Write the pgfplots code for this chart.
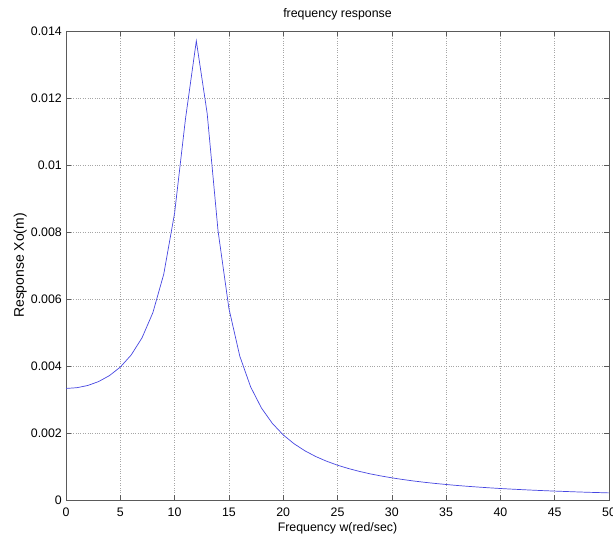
\documentclass[border=0pt]{standalone}
\usepackage{fontspec}
\setmainfont{Liberation Sans}
\usepackage{pgfplots}
\pgfplotsset{compat=1.18}
\definecolor{curve}{RGB}{70,70,225}
\definecolor{axgray}{RGB}{90,90,90}
\begin{document}
\fontsize{12.4}{14}\selectfont
\begin{tikzpicture}
\useasboundingbox (-66bp,-39bp) rectangle (547bp,500bp);
\begin{axis}[
  at={(0,0)}, anchor=south west,
  scale only axis, width=543bp, height=469bp,
  xmin=0, xmax=50, ymin=0, ymax=0.014,
  xtick={0,5,...,50},
  ytick={0,0.002,0.004,0.006,0.008,0.01,0.012,0.014},
  scaled y ticks=false,
  /pgf/number format/assume math mode=true,
  yticklabel style={/pgf/number format/fixed, /pgf/number format/precision=3, anchor=east, inner sep=0pt, xshift=-4bp},
  xticklabel style={anchor=base, inner sep=0pt, yshift=-17bp},
  tick label style={font=\fontsize{12.4}{14}\selectfont},
  tick align=inside, major tick length=5bp,
  xtick pos=both, ytick pos=both,
  axis line style={axgray, line width=0.6bp},
  tick style={axgray, line width=0.6bp},
  grid=major,
  major grid style={gray!70, dotted, line width=0.6bp},
  title={frequency response},
  title style={at={(0.5,1)}, anchor=base, yshift=8bp, inner sep=0pt, font=\fontsize{12.4}{14}\selectfont},
  xlabel={Frequency w(red/sec)},
  xlabel style={at={(0.5,0)}, anchor=base, yshift=-32bp, inner sep=0pt, font=\fontsize{12.4}{14}\selectfont},
  ylabel={Response Xo(m)},
  ylabel style={at={(axis description cs:-0.0775,0.5)}, anchor=base, rotate=0, inner sep=0pt, font=\fontsize{14}{16}\selectfont},
]
\addplot[curve, line width=0.7bp, mark=none] coordinates {
(0,0.003330) (1,0.003352) (2,0.003418) (3,0.003535) (4,0.003713)
(5,0.003967) (6,0.004328) (7,0.004841) (8,0.005593) (9,0.006740)
(10,0.008565) (11,0.011372) (12,0.013704) (13,0.011537) (14,0.008033)
(15,0.005719) (16,0.004297) (17,0.003377) (18,0.002744) (19,0.002287)
(20,0.001944) (21,0.001679) (22,0.001468) (23,0.001297) (24,0.001157)
(25,0.001039) (26,0.000940) (27,0.000855) (28,0.000781) (29,0.000718)
(30,0.000662) (31,0.000612) (32,0.000568) (33,0.000529) (34,0.000494)
(35,0.000463) (36,0.000434) (37,0.000408) (38,0.000385) (39,0.000363)
(40,0.000343) (41,0.000325) (42,0.000309) (43,0.000293) (44,0.000279)
(45,0.000266) (46,0.000254) (47,0.000242) (48,0.000231) (49,0.000222)
(50,0.000212)
};
\end{axis}
\end{tikzpicture}
\end{document}
